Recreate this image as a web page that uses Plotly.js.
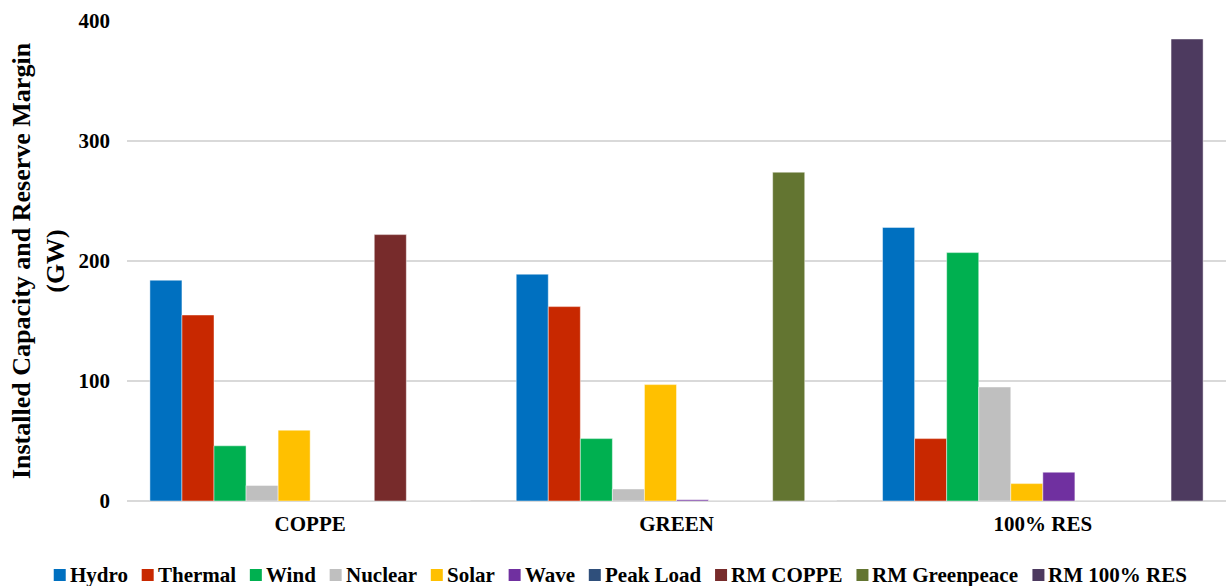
<!DOCTYPE html>
<html>
<head>
<meta charset="utf-8">
<script src="https://cdn.plot.ly/plotly-3.0.1.min.js"></script>
<style>
  html, body { margin: 0; padding: 0; background: #fff; }
  #chart { width: 1226px; height: 586px; }
</style>
</head>
<body>
<div id="chart"></div>
<script>
// Scenarios on the category axis
const scenarios = ['COPPE', 'GREEN', '100% RES'];

// Installed capacity / reserve margin per source (GW), one value per scenario
const hydro        = [184, 189, 228];
const thermal      = [155, 162, 52];
const wind         = [46, 52, 207];
const nuclear      = [13, 10, 95];
const solar        = [59, 97, 14.5];
const wave         = [0, 1, 24];
const peakLoad     = [0, 0, 0];
const rmCoppe      = [222, 0, 0];
const rmGreenpeace = [0, 274, 0];
const rmRes100     = [0, 0, 385];

const seriesNames = ['Hydro', 'Thermal', 'Wind', 'Nuclear', 'Solar', 'Wave',
                     'Peak Load', 'RM COPPE', 'RM Greenpeace', 'RM 100% RES'];
const seriesValues = [hydro, thermal, wind, nuclear, solar, wave,
                      peakLoad, rmCoppe, rmGreenpeace, rmRes100];
const seriesColors = ['#0070C0', '#C82800', '#00B050', '#BFBFBF', '#FFC000',
                      '#7030A0', '#2F4F7B', '#772B2B', '#637531', '#4D3A5F'];

const fontFamily = 'Liberation Serif, Times New Roman, serif';

// Figure geometry (pixels)
const W = 1226, H = 586;
const M = { l: 127, r: 0, t: 21, b: 85 };
const plotW = W - M.l - M.r;
const plotH = H - M.t - M.b;

const traces = seriesNames.map((name, i) => ({
  type: 'bar',
  name: name,
  x: scenarios,
  y: seriesValues[i],
  marker: {
    color: seriesColors[i],
    line: { color: 'rgba(255,255,255,0.45)', width: 1 }
  },
  hoverinfo: 'x+y+name'
}));

// Single-row legend along the bottom: colour square + bold label per series
const legendFontSize = 21;
const legendY = 575;          // vertical centre of the row
const swatch = 12;            // square size
const swatchGap = 3;          // square -> label
const itemGap = 15;           // label -> next square
const measureCtx = document.createElement('canvas').getContext('2d');
measureCtx.font = 'bold ' + legendFontSize + 'px "Liberation Serif"';
const labelWidths = seriesNames.map(n => measureCtx.measureText(n).width);
const totalWidth = labelWidths.reduce((s, w) => s + swatch + swatchGap + w, 0)
                   + itemGap * (seriesNames.length - 1);
const legendCenter = 620;
const toPaperX = px => (px - M.l) / plotW;
const toPaperY = py => (H - M.b - py) / plotH;

const legendShapes = [];
const legendAnnotations = [];
let cursor = legendCenter - totalWidth / 2;
seriesNames.forEach((name, i) => {
  legendShapes.push({
    type: 'rect', xref: 'paper', yref: 'paper', layer: 'above',
    x0: toPaperX(cursor), x1: toPaperX(cursor + swatch),
    y0: toPaperY(legendY + swatch / 2), y1: toPaperY(legendY - swatch / 2),
    fillcolor: seriesColors[i], line: { width: 0 }
  });
  legendAnnotations.push({
    xref: 'paper', yref: 'paper',
    x: toPaperX(cursor + swatch + swatchGap - 1), y: toPaperY(legendY),
    xanchor: 'left', yanchor: 'middle',
    text: name, showarrow: false,
    font: { family: fontFamily, size: legendFontSize, color: '#000', weight: 'bold' }
  });
  cursor += swatch + swatchGap + labelWidths[i] + itemGap;
});

const layout = {
  width: W,
  height: H,
  margin: M,
  paper_bgcolor: '#ffffff',
  plot_bgcolor: '#ffffff',
  barmode: 'group',
  bargap: 0.125,
  bargroupgap: 0,
  showlegend: false,
  font: { family: fontFamily, size: 21, color: '#000000', weight: 'bold' },
  xaxis: {
    type: 'category',
    showgrid: false,
    showline: false,
    ticks: '',
    ticklabelstandoff: 8,
    tickfont: { family: fontFamily, size: 21, color: '#000', weight: 'bold' },
    zeroline: false
  },
  yaxis: {
    range: [0, 400],
    dtick: 100,
    tick0: 0,
    showgrid: true,
    gridcolor: '#D9D9D9',
    gridwidth: 1.5,
    zeroline: true,
    zerolinecolor: '#D9D9D9',
    zerolinewidth: 2,
    showline: false,
    ticks: '',
    ticklabelstandoff: 16,
    tickfont: { family: fontFamily, size: 21, color: '#000', weight: 'bold' },
    title: {
      text: 'Installed Capacity and Reserve Margin<br>(GW)',
      font: { family: fontFamily, size: 26, color: '#000', weight: 'bold' },
      standoff: 6
    }
  },
  shapes: legendShapes,
  annotations: legendAnnotations
};

Plotly.newPlot('chart', traces, layout, { displayModeBar: false, staticPlot: true });
</script>
</body>
</html>
